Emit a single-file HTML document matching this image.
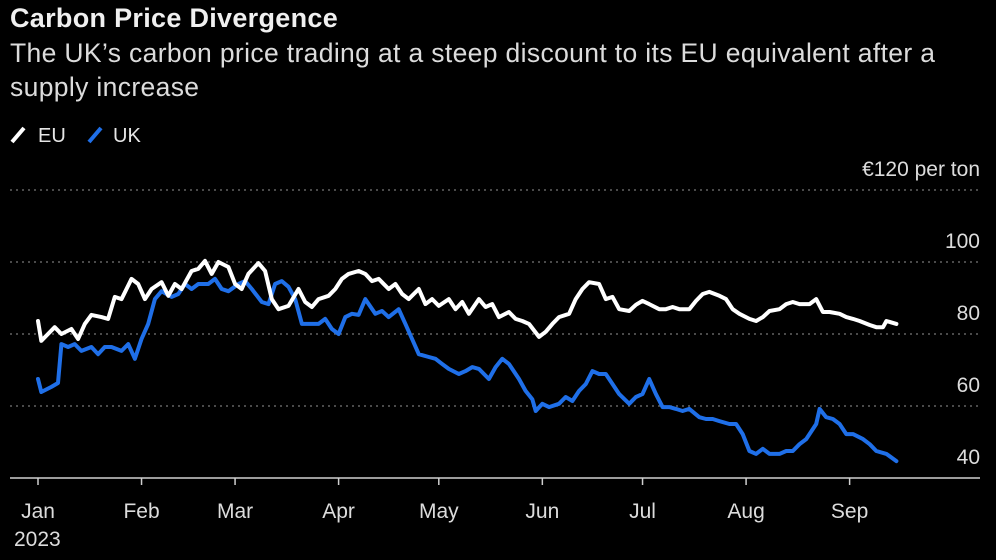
<!DOCTYPE html>
<html><head><meta charset="utf-8">
<style>
html,body{margin:0;padding:0;background:#000;}
body{width:996px;height:560px;overflow:hidden;font-family:"Liberation Sans",sans-serif;color:#e6e6e6;position:relative;}
.t{position:absolute;left:10px;white-space:nowrap;}
</style></head><body>
<div class="t" style="top:3px;font-size:27px;font-weight:bold;color:#f0f0f0;letter-spacing:0.3px;">Carbon Price Divergence</div>
<div class="t" style="top:36px;font-size:26.5px;line-height:34px;color:#dcdcdc;letter-spacing:0.35px;">The UK’s carbon price trading at a steep discount to its EU equivalent after a<br>supply increase</div>
<svg id="chart" width="996" height="560" style="position:absolute;left:0;top:0">
<g>
<g><line x1="12" y1="142" x2="24" y2="128" stroke="#fff" stroke-width="4"/><text x="38" y="142" font-size="20" fill="#e6e6e6" font-family="Liberation Sans">EU</text></g>
<g><line x1="89" y1="142" x2="101" y2="128" stroke="#1f6fe8" stroke-width="4"/><text x="113" y="142" font-size="20" fill="#e6e6e6" font-family="Liberation Sans">UK</text></g>
</g>
</svg>
<script>
const yTicks=[40,60,80,100,120];
const yTickLabels=["40","60","80","100","€120 per ton"];
const monthDays=[0,31,59,90,120,151,181,212,243];
const monthLabels=["Jan","Feb","Mar","Apr","May","Jun","Jul","Aug","Sep"];
const euDays=[0,1,3,5,7,10,12,14,16,19,21,23,25,28,30,32,34,37,39,41,43,46,48,50,52,54,57,59,61,63,66,68,70,72,75,78,80,82,84,87,89,91,93,96,98,100,102,105,107,109,111,114,116,118,120,123,125,127,129,132,134,136,138,141,143,145,147,150,152,154,156,159,161,163,165,168,170,172,174,177,179,181,183,186,188,190,192,195,197,199,201,204,206,208,210,213,215,217,219,222,224,226,228,231,233,235,237,240,242,244,246,249,251,253,254,257];
const euValues=[83.6,78.1,80,81.9,80,81.4,78.6,82.8,85.3,84.7,84.2,90.3,89.7,95.3,93.9,89.7,92.5,94.4,90.6,93.9,92.5,97.5,98.1,100.3,96.7,100,98.6,93.9,92.5,96.7,99.7,97.5,89.7,86.9,87.8,92.5,88.9,87.5,89.7,90.6,92.5,95.3,96.7,97.5,96.7,94.7,95.3,92.5,93.9,91.1,89.7,92.5,88.3,89.7,87.8,89.7,86.9,88.9,85.6,89.7,87.5,88.3,84.7,86.1,84.2,83.6,82.8,79.2,80.6,82.8,84.7,85.6,89.7,92.5,94.4,93.9,89.7,90.3,86.9,86.4,88.1,89.2,88.3,86.9,86.9,87.5,86.9,86.9,89.2,91.1,91.7,90.6,89.7,86.9,85.6,84.2,83.6,84.7,86.4,86.9,88.3,88.9,88.3,88.3,89.7,86.1,86.1,85.6,84.7,84.2,83.6,82.5,81.9,81.9,83.6,82.8];
const ukDays=[0,1,4,6,7,9,11,13,16,18,20,22,25,27,29,31,33,35,37,40,42,44,46,48,51,53,55,57,60,62,64,67,69,71,73,75,77,79,81,84,86,88,90,92,94,96,98,101,103,105,108,110,112,114,117,119,121,123,126,128,130,132,135,137,139,141,144,146,148,149,151,153,156,158,160,162,164,166,168,170,172,174,177,179,181,183,185,187,189,191,193,195,198,200,202,204,207,209,211,213,215,217,219,222,224,226,228,230,233,234,236,238,240,242,244,247,249,251,254,257];
const ukValues=[67.5,63.9,65.3,66.4,77.2,76.4,77.2,75.3,76.4,74.4,76.4,76.4,75.3,77.2,73.1,78.6,82.8,89.7,91.9,90.3,91.1,93.9,92.5,93.9,93.9,95.3,92.5,91.9,93.9,94.7,92.5,88.9,88.3,93.9,94.7,93.1,89.7,82.8,82.8,82.8,84.2,81.4,80,84.7,85.6,85.3,89.7,85.6,86.4,84.7,86.9,82.8,78.6,74.4,73.6,73.1,71.7,70.3,68.9,69.7,70.8,70.3,67.5,70.8,73.1,71.7,67.5,64.2,61.9,58.6,60.6,59.7,60.6,62.5,61.4,64.2,66.1,69.7,68.9,68.9,66.1,63.3,60.6,62.5,63.3,67.5,63.3,59.7,59.7,59.2,58.6,59.2,56.9,56.4,56.4,55.8,55,55,52.2,47.5,46.7,48.1,46.7,46.7,47.5,47.5,49.4,50.8,55,59.2,56.9,56.4,55,52.2,52.2,50.8,49.4,47.5,46.7,44.7];

const NS="http://www.w3.org/2000/svg";
const svg=document.getElementById('chart');
const xS=d=>38+d*3.34;
const yS=v=>478-(v-40)*3.6;
function mk(tag,attrs){const e=document.createElementNS(NS,tag);for(const k in attrs)e.setAttribute(k,attrs[k]);svg.appendChild(e);return e;}
yTicks.forEach((v,i)=>{
  if(i>0){const g=mk('line',{x1:10,x2:980,y1:yS(v),y2:yS(v),stroke:'#777','stroke-width':1.3,'stroke-dasharray':'2,4'});
  
  }
  const t=mk('text',{x:980,y:yS(v)-14,'text-anchor':'end','font-size':21,fill:'#dcdcdc','font-family':'Liberation Sans'});
  t.textContent=yTickLabels[i];
  
  
});
const ax=mk('line',{x1:10,x2:980,y1:478,y2:478,stroke:'#cfcfcf','stroke-width':1.5});


monthDays.forEach((d,i)=>{
  const tk=mk('line',{x1:xS(d),x2:xS(d),y1:478,y2:485,stroke:'#cfcfcf','stroke-width':1.5});
  
  
  const t=mk('text',{x:xS(d),y:518,'text-anchor':'middle','font-size':21,fill:'#dcdcdc','font-family':'Liberation Sans'});
  t.textContent=monthLabels[i];
  
  
});
const yr=mk('text',{x:14,y:546,'font-size':21,fill:'#dcdcdc','font-family':'Liberation Sans'});
yr.textContent='2023';


function line(days,vals,color,name){
  const p=mk('path',{d:days.map((d,i)=>(i?'L':'M')+xS(d).toFixed(1)+','+yS(vals[i]).toFixed(1)).join(''),fill:'none',stroke:color,'stroke-width':4,'stroke-linejoin':'round','stroke-linecap':'round'});
  
  
}
line(ukDays,ukValues,'#1f6fe8','uk-series-line');
line(euDays,euValues,'#ffffff','eu-series-line');
</script>
</body></html>
